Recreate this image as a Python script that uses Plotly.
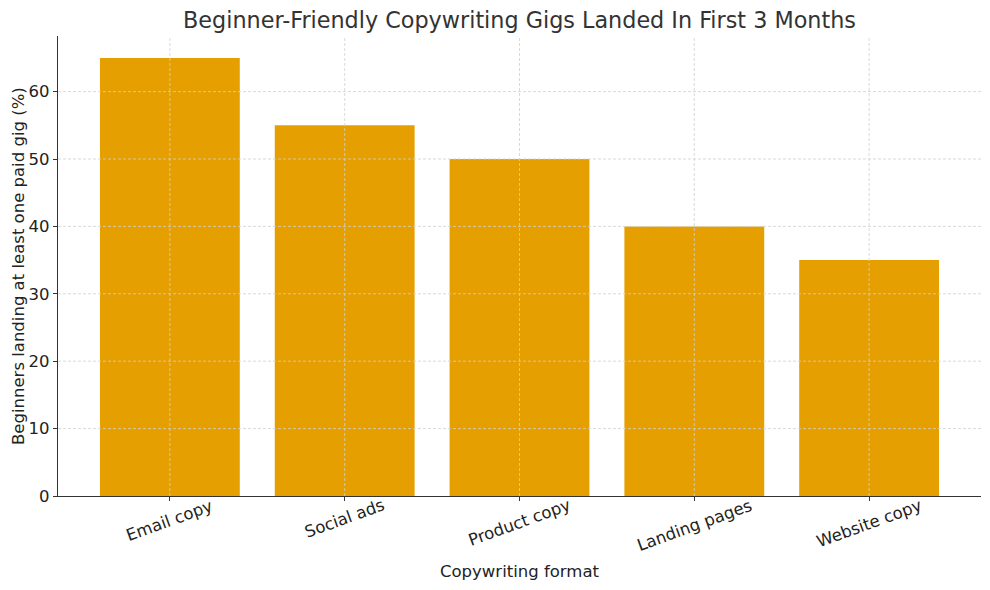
import plotly.graph_objects as go

categories = ["Email copy", "Social ads", "Product copy", "Landing pages", "Website copy"]
values = [65, 55, 50, 40, 35]
y_ticks = [0, 10, 20, 30, 40, 50, 60]

title = "Beginner-Friendly Copywriting Gigs Landed In First 3 Months"
x_title = "Copywriting format"
y_title = "Beginners landing at least one paid gig (%)"

FONT = "DejaVu Sans"
GRID = "#cfcfcf"
TXT = "#222222"
AXIS = "#333333"

fig = go.Figure()
fig.add_trace(go.Bar(
    x=list(range(len(categories))), y=values,
    width=0.8,
    marker=dict(color="#E69F00", line=dict(width=0)),
))

shapes = []
for i in range(len(categories)):
    shapes.append(dict(type="line", xref="x", yref="paper", x0=i, x1=i, y0=0, y1=1,
                       line=dict(color=GRID, width=0.8, dash="3px,2px"), layer="above"))
for t in y_ticks:
    if t == 0:
        continue
    shapes.append(dict(type="line", xref="paper", yref="y", x0=0, x1=1, y0=t, y1=t,
                       line=dict(color=GRID, width=0.8, dash="3px,2px"), layer="above"))

annotations = []
for i, c in enumerate(categories):
    annotations.append(dict(text=c, x=i, xref="x", y=0, yref="paper",
                            xanchor="center", yanchor="top", yshift=3,
                            textangle=-20, showarrow=False,
                            font=dict(family=FONT, size=16.5, color=TXT)))
annotations.append(dict(text=x_title, x=0.5, xref="paper", y=0, yref="paper",
                        xanchor="center", yanchor="middle", yshift=-75,
                        showarrow=False, font=dict(family=FONT, size=16.5, color=TXT)))
annotations.append(dict(text=y_title, x=0, xref="paper", y=0.5, yref="paper",
                        xanchor="center", yanchor="middle", xshift=-40,
                        textangle=-90, showarrow=False,
                        font=dict(family=FONT, size=16.5, color=TXT)))

fig.update_layout(
    width=982, height=582,
    margin=dict(l=50, r=9, t=28, b=94, autoexpand=False),
    paper_bgcolor="white", plot_bgcolor="white",
    font=dict(family=FONT, size=16, color=TXT),
    title=dict(text=title, x=0.5, xref="paper", xanchor="center",
               y=0.979, yanchor="middle",
               font=dict(family=FONT, size=22.3, color="#333333")),
    showlegend=False,
    shapes=shapes,
    annotations=annotations,
    bargap=0.2,
)
fig.update_xaxes(
    range=[-0.64, len(categories) - 1 + 0.64],
    tickmode="array", tickvals=list(range(len(categories))),
    showticklabels=False, automargin=False,
    showgrid=False, zeroline=False,
    showline=True, linecolor=AXIS, linewidth=1.3,
    ticks="outside", ticklen=4, tickcolor=AXIS,
)
fig.update_yaxes(
    range=[0, 68.25],
    tickmode="array", tickvals=y_ticks, automargin=False,
    showgrid=False, zeroline=False,
    showline=True, linecolor=AXIS, linewidth=1.3,
    ticks="outside", ticklen=4, tickcolor=AXIS,
    tickfont=dict(size=16.5, color=TXT),
)

fig.write_html("out.html")
